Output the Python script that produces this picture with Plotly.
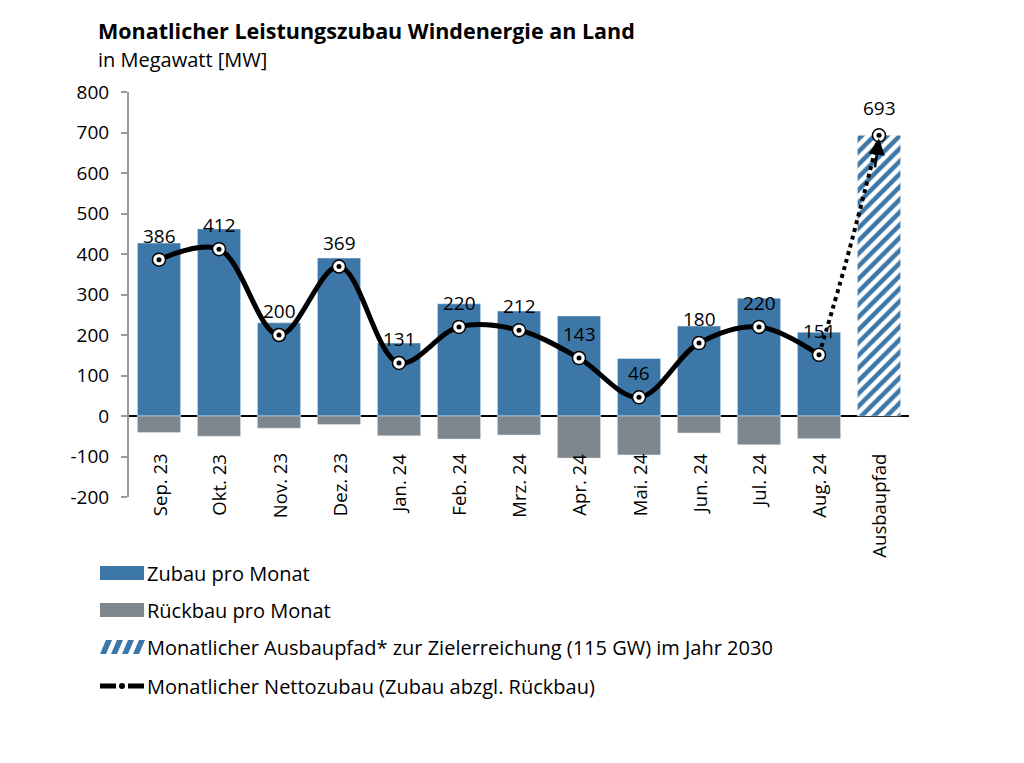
import plotly.graph_objects as go

categories = ["Sep. 23", "Okt. 23", "Nov. 23", "Dez. 23", "Jan. 24", "Feb. 24",
              "Mrz. 24", "Apr. 24", "Mai. 24", "Jun. 24", "Jul. 24", "Aug. 24", "Ausbaupfad"]
zubau = [427, 462, 230, 390, 180, 277, 259, 247, 142, 222, 291, 207]
rueckbau = [-41, -50, -30, -21, -49, -57, -47, -104, -96, -42, -71, -56]
netto = [386, 412, 200, 369, 131, 220, 212, 143, 46, 180, 220, 151]
ausbaupfad = 693
y_ticks = [-200, -100, 0, 100, 200, 300, 400, 500, 600, 700, 800]

legend_labels = ["Zubau pro Monat", "Rückbau pro Monat",
                 "Monatlicher Ausbaupfad* zur Zielerreichung (115 GW) im Jahr 2030",
                 "Monatlicher Nettozubau (Zubau abzgl. Rückbau)"]

BLUE = "#3C77A7"
GRAY = "#7E878E"
FONT = "Open Sans"

OFF = 8  # page body margin
W, H = 1024 - 2 * OFF, 763 - 2 * OFF
# plot area in page pixel coords
L, R, T, B = 129, 909, 92, 497

def xp(px):
    return (px - L) / (R - L)

def yp(py):
    return (B - py) / (B - T)

xi = list(range(len(categories)))
mi = xi[:12]

fig = go.Figure()
fig.add_trace(go.Bar(x=mi, y=zubau, width=0.72, marker_color=BLUE, showlegend=False))
fig.add_trace(go.Bar(x=mi, y=rueckbau, width=0.72, marker_color=GRAY, showlegend=False))
fig.add_trace(go.Bar(x=[12], y=[ausbaupfad], width=0.72,
                     marker=dict(color="white",
                                 pattern=dict(shape="/", fgcolor=BLUE, bgcolor="white",
                                              size=9, solidity=0.5, fillmode="replace")),
                     showlegend=False))
# dotted extension
fig.add_trace(go.Scatter(x=[11, 11.45, 12], y=[netto[-1], 380, ausbaupfad], mode="lines",
                         line=dict(color="black", width=4, dash="dot", shape="spline"),
                         showlegend=False))
# solid spline
fig.add_trace(go.Scatter(x=mi, y=netto, mode="lines",
                         line=dict(color="black", width=5, shape="spline", smoothing=1.0),
                         showlegend=False))
fig.add_trace(go.Scatter(x=mi + [12], y=netto + [ausbaupfad], mode="markers",
                         marker=dict(size=13, color="white", line=dict(color="black", width=1.5)),
                         showlegend=False))
fig.add_trace(go.Scatter(x=mi + [12], y=netto + [ausbaupfad], mode="markers",
                         marker=dict(size=5, color="black"), showlegend=False))

annotations = []
for i, v in zip(mi, netto):
    annotations.append(dict(x=i, y=v, xref="x", yref="y", text=str(v), showarrow=False,
                            yshift=24, font=dict(family=FONT, size=19, color="black")))
annotations.append(dict(x=12, y=ausbaupfad, xref="x", yref="y", text=str(ausbaupfad),
                        showarrow=False, yshift=27, font=dict(family=FONT, size=19, color="black")))
# arrow head of dotted line
annotations.append(dict(x=12, y=ausbaupfad - 8, xref="x", yref="y", ax=11.93, ay=610,
                        axref="x", ayref="y", text="", showarrow=True, arrowhead=2,
                        arrowsize=1.3, arrowwidth=2.5, arrowcolor="black"))
# category labels
for i, c in zip(xi, categories):
    annotations.append(dict(x=i, y=-88, xref="x", yref="y", text=c, showarrow=False,
                            textangle=-90, yanchor="top", xanchor="center",
                            font=dict(family=FONT, size=18.5, color="black")))
# title
annotations.append(dict(x=xp(96), y=yp(30), xref="paper", yref="paper", xanchor="left",
                        yanchor="middle", text="<b>Monatlicher Leistungszubau Windenergie an Land</b>",
                        showarrow=False, font=dict(family=FONT, size=21.5, color="black")))
annotations.append(dict(x=xp(96), y=yp(59), xref="paper", yref="paper", xanchor="left",
                        yanchor="middle", text="in Megawatt [MW]",
                        showarrow=False, font=dict(family=FONT, size=20, color="black")))

shapes = []
rows = [573, 610, 647, 686]
for lbl, ry in zip(legend_labels, rows):
    annotations.append(dict(x=xp(145), y=yp(ry), xref="paper", yref="paper", xanchor="left",
                            yanchor="middle", text=lbl, showarrow=False,
                            font=dict(family=FONT, size=20, color="black")))
# legend swatches
shapes.append(dict(type="rect", xref="paper", yref="paper", x0=xp(100), x1=xp(144),
                   y0=yp(580), y1=yp(566), fillcolor=BLUE, line_width=0))
shapes.append(dict(type="rect", xref="paper", yref="paper", x0=xp(100), x1=xp(144),
                   y0=yp(617), y1=yp(603), fillcolor=GRAY, line_width=0))
for k in range(4):
    x0 = 100 + k * 11
    path = "M {a},{b} L {c},{b} L {d},{e} L {f},{e} Z".format(
        a=xp(x0), b=yp(654), c=xp(x0 + 6), d=xp(x0 + 12), e=yp(640), f=xp(x0 + 6))
    shapes.append(dict(type="path", xref="paper", yref="paper", path=path,
                       fillcolor=BLUE, line_width=0))
shapes.append(dict(type="line", xref="paper", yref="paper", x0=xp(100), x1=xp(116),
                   y0=yp(686), y1=yp(686), line=dict(color="black", width=5)))
shapes.append(dict(type="line", xref="paper", yref="paper", x0=xp(128), x1=xp(144),
                   y0=yp(686), y1=yp(686), line=dict(color="black", width=5)))
shapes.append(dict(type="circle", xref="paper", yref="paper", x0=xp(119), x1=xp(125),
                   y0=yp(689), y1=yp(683), fillcolor="black", line_width=0))

fig.update_layout(
    width=W, height=H,
    margin=dict(l=L - OFF, r=W - (R - OFF), t=T - OFF, b=H - (B - OFF)),
    plot_bgcolor="white", paper_bgcolor="white", barmode="overlay",
    font=dict(family=FONT, size=19, color="black"),
    annotations=annotations, shapes=shapes, showlegend=False,
)
fig.update_xaxes(range=[-0.5, 12.5], showticklabels=False, showgrid=False, zeroline=False,
                 showline=False, ticks="")
fig.update_yaxes(range=[-200, 800], tickvals=y_ticks, ticktext=[str(v) for v in y_ticks],
                 showgrid=False,
                 zeroline=True, zerolinecolor="black", zerolinewidth=1.5,
                 showline=True, linecolor="#9A9A9A", linewidth=2, ticks="outside",
                 ticklen=6, tickcolor="#9A9A9A", tickwidth=2, ticklabelstandoff=8,
                 tickfont=dict(family=FONT, size=19, color="black"))

fig.write_html("out.html")
